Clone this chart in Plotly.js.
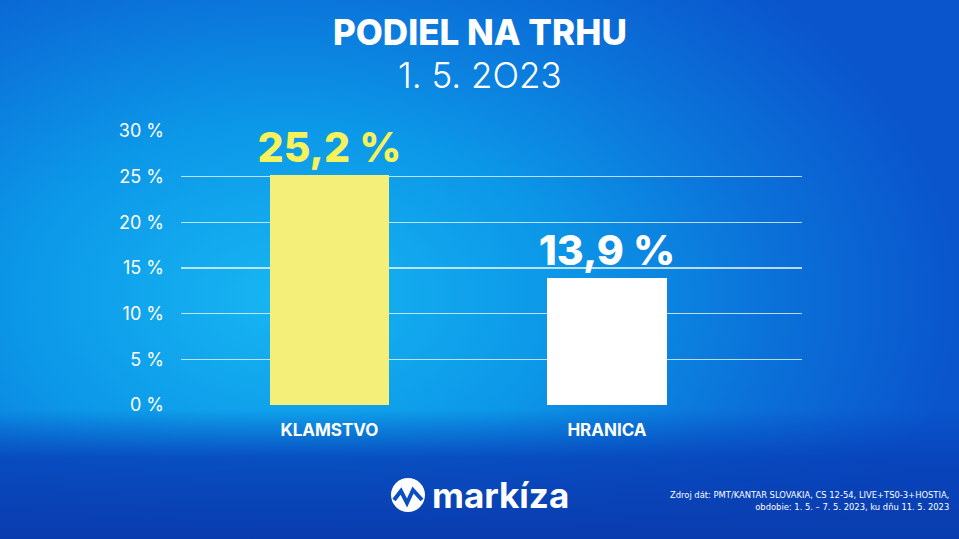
<!DOCTYPE html>
<html>
<head>
<meta charset="utf-8">
<script src="https://cdn.plot.ly/plotly-3.0.1.min.js"></script>
<style>
html,body{margin:0;padding:0;width:959px;height:539px;overflow:hidden;}
body{
background:
 linear-gradient(to bottom, rgba(8,70,190,0) 0%, rgba(8,70,190,0) 76%, rgba(8,66,186,0.85) 85%, #0a3cae 100%),
 radial-gradient(ellipse 70% 80% at 30% 55%, #17b6f2 0%, #0c98e8 40%, #0b74da 70%, #0a55cc 100%);
}
#chart{width:959px;height:539px;}
</style>
</head>
<body>
<div id="chart"></div>
<script>
const categories = ["KLAMSTVO", "HRANICA"];
const shareValues = [25.2, 13.9];
const yTickValues = [0, 5, 10, 15, 20, 25, 30];
const yTickLabels = ["0 %", "5 %", "10 %", "15 %", "20 %", "25 %", "30 %"];
const titleText = "PODIEL NA TRHU";
const subtitleText = "1. 5. 2O23";
const sourceLines = ["Zdroj dát: PMT/KANTAR SLOVAKIA, CS 12-54, LIVE+TS0-3+HOSTIA,", "obdobie: 1. 5. – 7. 5. 2023, ku dňu 11. 5. 2023"];
const logoText = "markíza";

const barColors = ["#f4ef78", "#ffffff"];
const labelColors = ["#f6f25a", "#ffffff"];

const W = 959, H = 539;
const L = 181, R = 802, T = 131, B = 405;
const px = x => (x - L) / (R - L);
const py = y => (B - y) / (B - T);

const trace = {
  type: "bar",
  x: categories,
  y: shareValues,
  width: 0.43,
  marker: {color: barColors, line: {width: 0}},
  texttemplate: "%{y:.1f} %",
  textposition: "outside",
  constraintext: "none",
  cliponaxis: false,
  textfont: {family: "Inter, Roboto, sans-serif", size: 41, color: labelColors, weight: 800},
  hoverinfo: "skip"
};

const layout = {
  width: W, height: H,
  margin: {l: L, r: W - R, t: T, b: H - B, pad: 0},
  paper_bgcolor: "rgba(0,0,0,0)",
  plot_bgcolor: "rgba(0,0,0,0)",
  separators: ", ",
  showlegend: false,
  bargap: 0,
  xaxis: {
    type: "category",
    range: [-0.535, 1.703],
    showgrid: false, zeroline: false, showline: false,
    ticks: "",
    ticklabelstandoff: 13,
    tickfont: {family: "Inter, Roboto, sans-serif", size: 17, color: "#ffffff", weight: 700}
  },
  yaxis: {
    range: [0, 30],
    tickmode: "array",
    tickvals: yTickValues,
    ticktext: yTickLabels,
    showgrid: true,
    gridcolor: "rgba(230,244,255,0.8)",
    gridwidth: 1.5,
    zeroline: false, showline: false,
    ticks: "",
    ticklabelstandoff: 16,
    tickfont: {family: "Inter, Roboto, sans-serif", size: 18, color: "#ffffff", weight: 400}
  },
  annotations: [
    {text: titleText, xref: "paper", yref: "paper", x: px(479.5), y: py(32), showarrow: false,
     xanchor: "center", yanchor: "middle",
     font: {family: "Inter, Roboto, sans-serif", size: 35, color: "#ffffff", weight: 800}},
    {text: subtitleText, xref: "paper", yref: "paper", x: px(479.5), y: py(75), showarrow: false,
     xanchor: "center", yanchor: "middle",
     font: {family: "Inter, Roboto, sans-serif", size: 35, color: "#ffffff", weight: 300}},
    {text: logoText, xref: "paper", yref: "paper", x: px(430), y: py(495), showarrow: false,
     xanchor: "left", yanchor: "middle",
     font: {family: "Inter, Roboto, sans-serif", size: 35, color: "#ffffff", weight: 700}},
    {text: sourceLines.join("<br>"), xref: "paper", yref: "paper", x: px(951), y: py(500), showarrow: false,
     xanchor: "right", yanchor: "middle", align: "right",
     font: {family: "'Liberation Sans Narrow', 'DejaVu Sans Condensed', sans-serif", size: 9.3, color: "#ffffff"}}
  ],
  shapes: [
    {type: "circle", xref: "paper", yref: "paper",
     x0: px(391), x1: px(425), y0: py(512), y1: py(478),
     fillcolor: "#ffffff", line: {width: 0}},
    {type: "path", xref: "paper", yref: "paper",
     path: "M " + px(394) + "," + py(500) + " L " + px(401) + "," + py(491) + " L " + px(407) + "," + py(503) +
           " L " + px(413) + "," + py(490) + " L " + px(422) + "," + py(500),
     line: {color: "#0b4fc4", width: 4}}
  ]
};

Plotly.newPlot("chart", [trace], layout, {staticPlot: true, displayModeBar: false});
</script>
</body>
</html>
